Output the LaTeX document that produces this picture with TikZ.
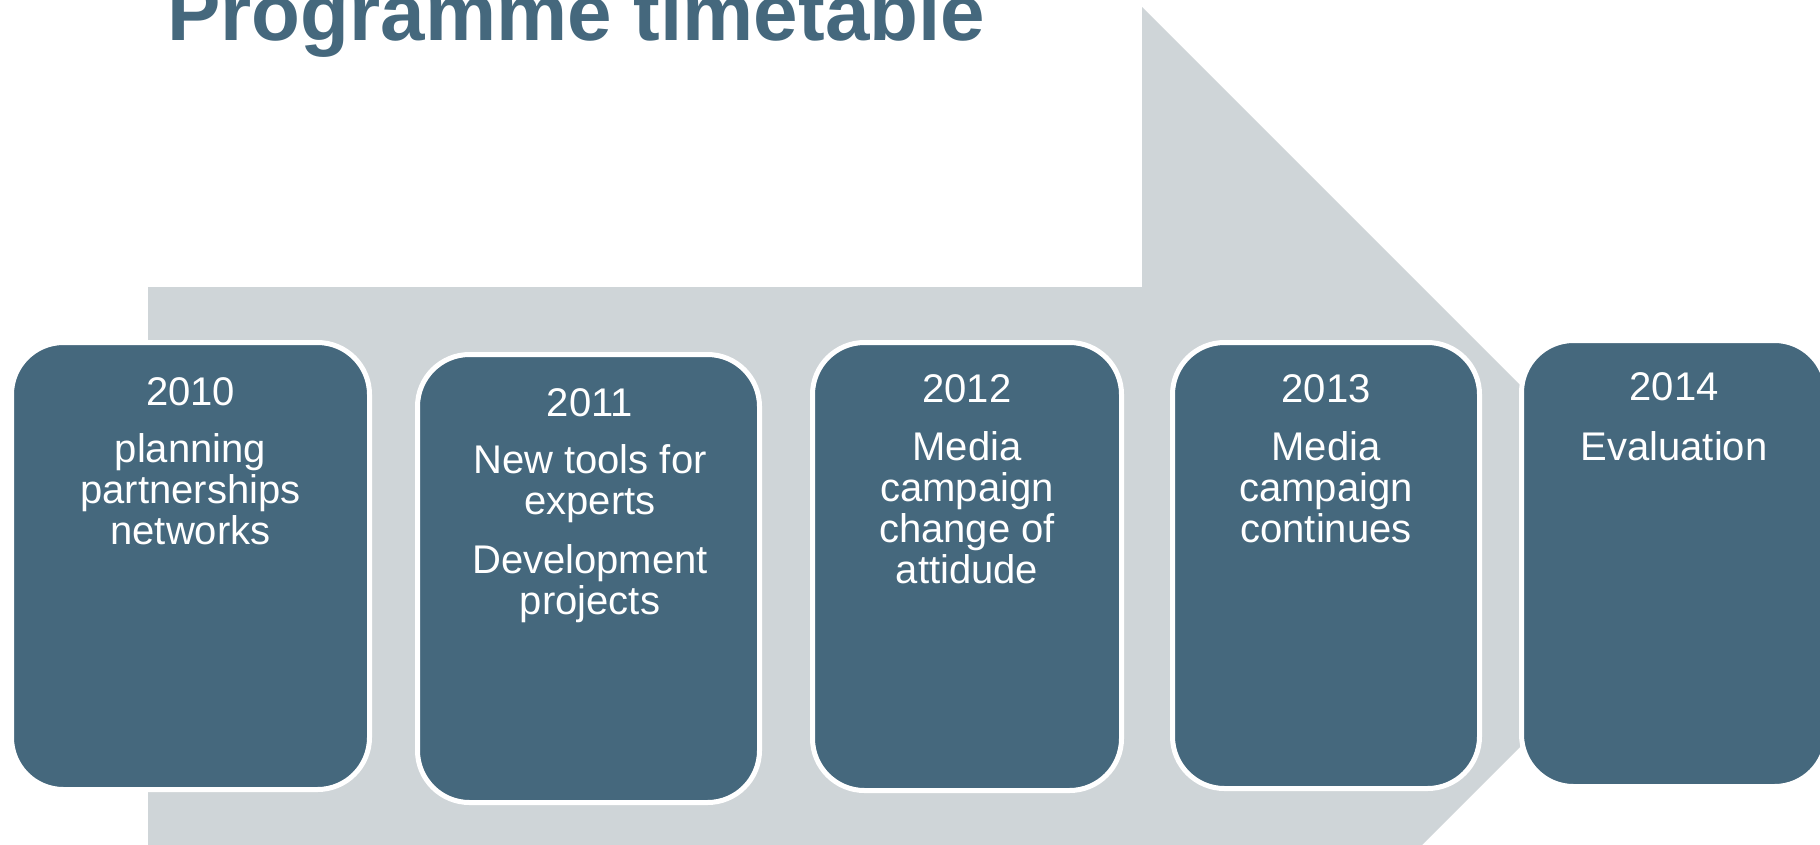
\documentclass[tikz,border=0pt]{standalone}
\usepackage{fontspec}
\setmainfont{Liberation Sans}
\definecolor{boxblue}{HTML}{45687D}
\definecolor{arrowgray}{HTML}{CFD5D8}
\newcommand\boxlines[1]{\vtop{\baselineskip=41pt\lineskiplimit=-100pt\lineskip=0pt\halign{\hfil##\hfil\cr#1\crcr}}}
\tikzset{
  stagebox/.style={draw=white, line width=5pt, fill=boxblue, rounded corners=52pt, inner sep=0pt},
  stagetext/.style={anchor=base, inner sep=0pt, text=white, font=\fontsize{40}{41}\selectfont},
  titletext/.style={anchor=base west, inner sep=0pt, text=boxblue, font=\fontsize{80}{90}\selectfont\bfseries}
}
\begin{document}
\begin{tikzpicture}[x=1pt, y=-1pt]
\useasboundingbox (0,0) rectangle (1820,844);
\clip (0,0) rectangle (1820,844);
% background arrow
\fill[arrowgray] (148,287) -- (1142,287) -- (1142,7) -- (1520,385) -- (1520,747) -- (1400,867) -- (148,867) -- cycle;
% title
\node[titletext] (title) at (167,40) {Programme timetable};
% boxes
\node[stagebox, minimum width=358pt, minimum height=447pt] (b1) at (190.5,566) {};
\node[stagebox, minimum width=342pt, minimum height=448pt] (b2) at (588.5,578.5) {};
\node[stagebox, minimum width=309pt, minimum height=448pt] (b3) at (967,566.5) {};
\node[stagebox, minimum width=307pt, minimum height=446pt] (b4) at (1326,565.5) {};
\node[stagebox, minimum width=305pt, minimum height=446pt] (b5) at (1674,563.5) {};
% texts
\node[stagetext] (t1) at (190.5,405) {\boxlines{2010\cr\noalign{\vskip16pt}planning\cr partnerships\cr networks}};
\node[stagetext] (t2) at (590,416) {\boxlines{2011\cr\noalign{\vskip16pt}New tools for\cr experts\cr\noalign{\vskip18pt}Development\cr projects}};
\node[stagetext] (t3) at (967,402) {\boxlines{2012\cr\noalign{\vskip17pt}Media\cr campaign\cr change of\cr attidude}};
\node[stagetext] (t4) at (1326,402) {\boxlines{2013\cr\noalign{\vskip17pt}Media\cr campaign\cr continues}};
\node[stagetext] (t5) at (1674,400) {\boxlines{2014\cr\noalign{\vskip19pt}Evaluation}};
\end{tikzpicture}
\end{document}
